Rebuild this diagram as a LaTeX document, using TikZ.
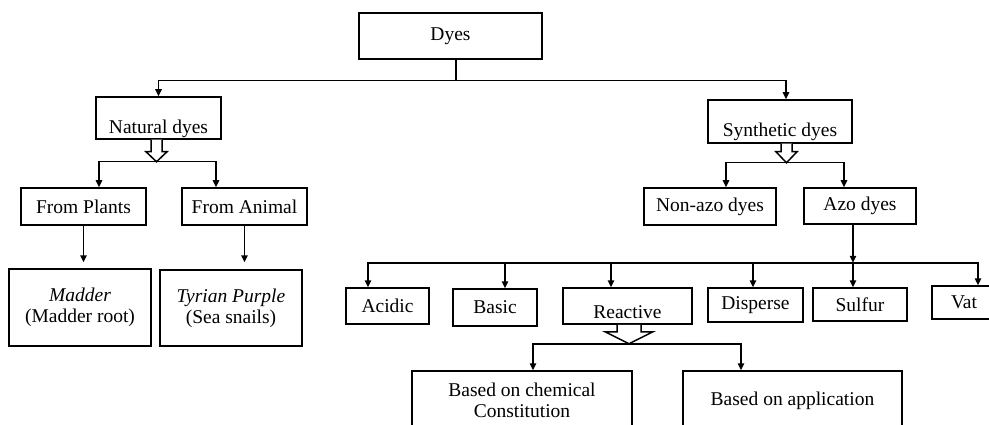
\documentclass[tikz,border=0pt]{standalone}
\usepackage{fontspec}
\setmainfont{Liberation Serif}
\usetikzlibrary{positioning}
\usetikzlibrary{arrows.meta,calc}
\tikzset{box/.style={draw, line width=1.5pt, inner sep=2pt, align=center}}
\tikzset{arr/.style={-{Triangle[length=7pt,width=6.5pt]}, line width=1.5pt}}
\tikzset{hollow/.style={draw, line width=1.5pt, fill=white}}
% hollow block arrow pointing down: start, shaft half, head half, shaft length, head length, tip name
\newcommand{\hollowdown}[6]{\draw[hollow] (#1) ++(-#2,0) -- ++(0,#4) -- ++({#2-#3},0) -- ++(#3,#5) coordinate (#6) -- ++(#3,-#5) -- ++({#2-#3},0) -- ++(0,-#4);}

\begin{document}
\begin{tikzpicture}[x=1pt,y=-1pt,font=\fontsize{19.5}{21}\selectfont]

	\useasboundingbox (0,0) rectangle (989,425);
	\clip (0,0) rectangle (989,425);

	\node[box, minimum width=183pt, minimum height=46pt] (dyes) at (450.5,36) {Dyes};

	\node[box, minimum width=125pt, inner ysep=0pt, text height=37pt, text depth=5pt] (natural) at (158.5,118) {Natural dyes};
	\node[box, minimum width=144pt, inner ysep=0pt, text height=37pt, text depth=6pt] (synth) at (780,121.5) {Synthetic dyes};

	\node[box, minimum width=125pt, minimum height=37pt] (plants) at (83.5,206.5) {From Plants};
	\node[box, minimum width=125pt, minimum height=37pt] (animal) at (244.5,206.5) {From Animal};
	\node[box, minimum width=142pt, minimum height=77pt] (madder) at (80,307.5) {\textit{Madder}\\(Madder root)};
	\node[box, minimum width=142pt, minimum height=76pt] (tyrian) at (231,308) {\textit{Tyrian Purple}\\(Sea snails)};

	\node[box, minimum width=132pt, minimum height=37pt] (nonazo) at (710,206.5) {Non-azo dyes};
	\node[box, minimum width=112pt, minimum height=36pt] (azo) at (860,206) {Azo dyes};

	\node[box, minimum width=83pt, minimum height=36pt] (acidic) at (387.5,306) {Acidic};
	\node[box, minimum width=84pt, minimum height=37pt] (basic) at (495,307.5) {Basic};
	\node[box, minimum width=129pt, inner ysep=0pt, text height=30pt, text depth=6pt] (reactive) at (627.5,306) {Reactive};
	\node[box, minimum width=95pt, minimum height=34pt] (disperse) at (755.5,305) {Disperse};
	\node[box, minimum width=94pt, minimum height=33pt] (sulfur) at (860,304.5) {Sulfur};
	\node[box, minimum width=64pt, minimum height=33pt] (vat) at (964,302.5) {Vat};

	\node[box, minimum width=220pt, minimum height=59pt] (chem) at (522,400.5) {Based on chemical\\Constitution};
	\node[box, minimum width=219pt, minimum height=59pt] (appl) at (792.5,400.5) {Based on application};

	\draw[arr] ([xshift=5.5pt]dyes.south) -- ++(0,21) -| (natural.north);
	\draw[arr] ([xshift=5.5pt]dyes.south) -- ++(0,21) -| ([xshift=6pt]synth.north);

	\hollowdown{[xshift=-2pt]natural.south}{5.5}{10.5}{12}{10}{nattip}
	\draw[arr] (nattip) -| ([xshift=15.5pt]plants.north);
	\draw[arr] (nattip) -| ([xshift=-28.5pt]animal.north);

	\draw[arr, shorten >=6pt] (plants) -- (plants |- madder.north);
	\draw[arr, shorten >=7pt] (animal) -- (animal |- tyrian.north);

	\hollowdown{[xshift=6.5pt]synth.south}{5.5}{10.5}{8}{11}{syntip}
	\draw[arr] (syntip) -| ([xshift=16pt]nonazo.north);
	\draw[arr] (syntip) -| ([xshift=-16pt]azo.north);

	\draw[arr] ([xshift=-7pt]azo.south) -- ++(0,38) coordinate (azohub);
	\draw[arr] (azohub) -| ([xshift=-19.5pt]acidic.north);
	\draw[arr] (azohub) -| ([xshift=10pt]basic.north);
	\draw[arr] (azohub) -| ([xshift=-16.5pt]reactive.north);
	\draw[arr] (azohub) -| ([xshift=-2.5pt]disperse.north);
	\draw[arr] (azohub) -| ([xshift=-7pt]sulfur.north);
	\draw[arr] (azohub) -| ([xshift=14pt]vat.north);

	\hollowdown{[xshift=1.5pt]reactive.south}{12}{24}{7}{12}{reatip}
	\draw[arr] (reatip) -| ([xshift=11pt]chem.north);
	\draw[arr] (reatip) -| ([xshift=-51.5pt]appl.north);

\end{tikzpicture}
\end{document}
